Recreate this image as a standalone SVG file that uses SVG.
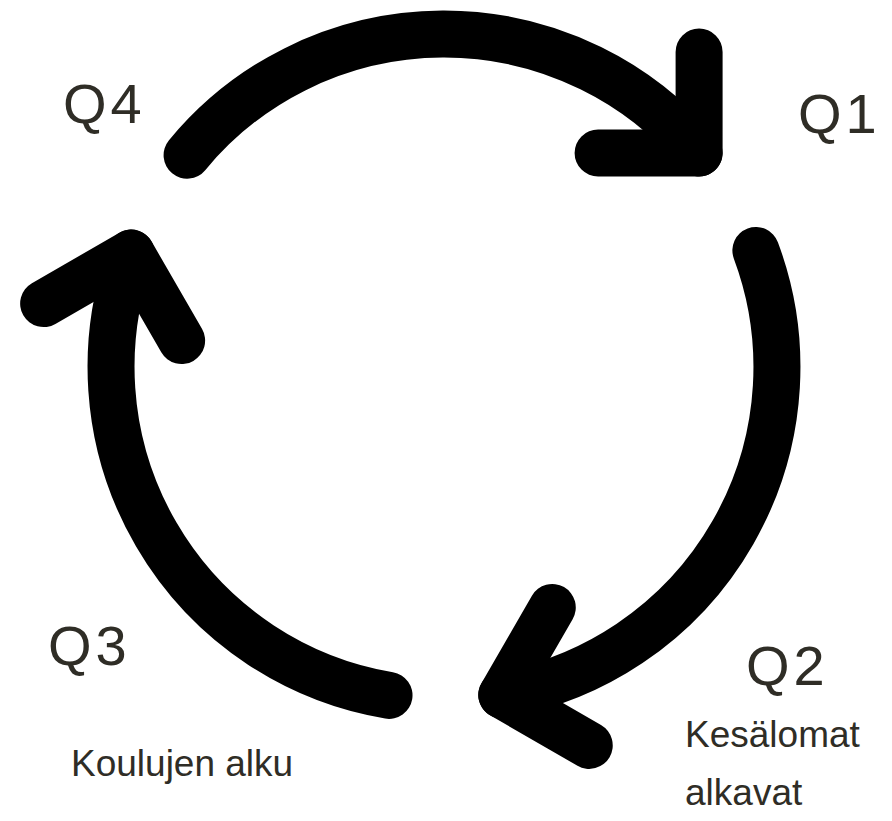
<svg xmlns="http://www.w3.org/2000/svg" width="892" height="821" viewBox="0 0 892 821">
  <style>
    .arc { fill: none; stroke: #000; stroke-width: 47; stroke-linecap: round; stroke-linejoin: round; }
    .q { font-family: "Liberation Sans", Arial, sans-serif; font-size: 56px; fill: #2f2d26; letter-spacing: 4px; }
    .lbl { font-family: "Liberation Sans", Arial, sans-serif; font-size: 37px; fill: #2f2d26; }
  </style>
  <defs>
    <g id="arrow">
      <path class="arc" d="M 187.1 155.2 A 333 333 0 0 1 699.1 153"/>
      <path class="arc" d="M 699.1 52 L 699.1 153 L 598.1 153"/>
    </g>
  </defs>
  <rect width="892" height="821" fill="#fff"/>
  <g id="connectors">
    <use id="arrow-q4-q1" href="#arrow"/>
    <use id="arrow-q1-q2" href="#arrow" transform="rotate(120 444 367)"/>
    <use id="arrow-q3-q4" href="#arrow" transform="rotate(240 444 367)"/>
  </g>
  <g id="q1"><text class="q" x="798" y="133">Q1</text></g>
  <g id="q2"><text class="q" x="746" y="685">Q2</text></g>
  <g id="q3"><text class="q" x="48" y="665">Q3</text></g>
  <g id="q4"><text class="q" x="63" y="123">Q4</text></g>
  <g id="label-q3"><text class="lbl" x="71" y="776">Koulujen alku</text></g>
  <g id="label-q2"><text class="lbl" x="685" y="747">Kesälomat</text><text class="lbl" x="685" y="805">alkavat</text></g>
</svg>
